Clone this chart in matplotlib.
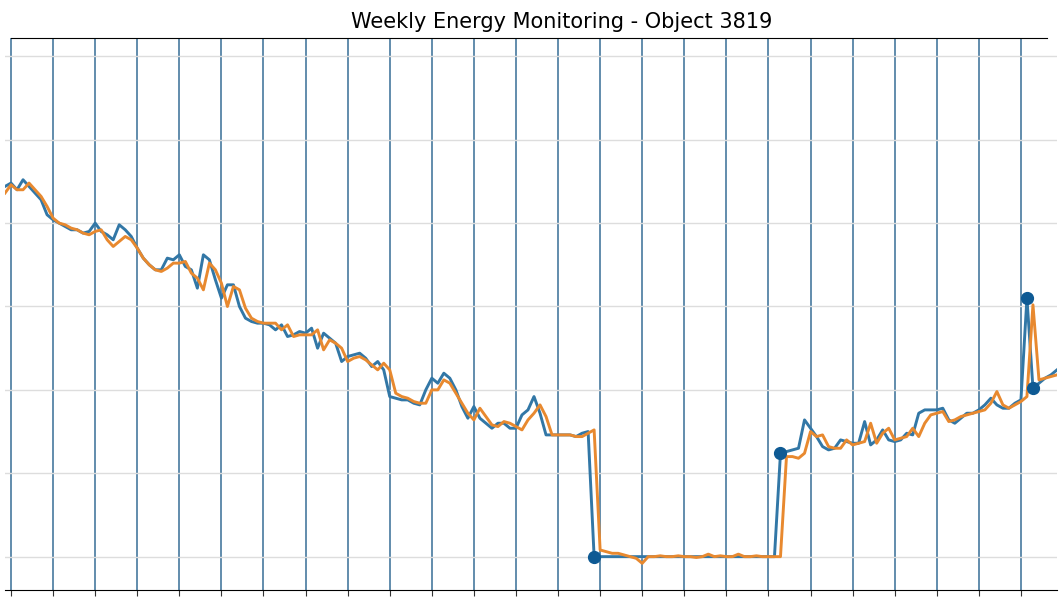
import numpy as np
import matplotlib
matplotlib.use("Agg")
import matplotlib.pyplot as plt

actual = [222, 224, 220, 226, 222, 218, 214, 205, 202, 200, 198, 196, 196, 194, 195, 200,
          195, 193, 190, 199, 196, 192, 185, 179, 175, 172, 172, 179, 178, 181, 174, 172,
          161, 181, 178, 166, 155, 163, 163, 150, 143, 141, 140, 140, 139, 136, 139, 132,
          133, 135, 134, 137, 125, 134, 131, 128, 117, 120, 121, 122, 119, 114, 117, 112,
          96, 95, 94, 94, 92, 91, 100, 107, 104, 110, 107, 100, 90, 83, 90, 83,
          80, 77, 80, 80, 77, 77, 85, 88, 96, 86, 73, 73, 73, 73, 73, 72,
          74, 75, 0, 0, 0, 0, 0, 0, 0, 0, 0, 0, 0, 0, 0, 0,
          0, 0, 0, 0, 0, 0, 0, 0, 0, 0, 0, 0, 0, 0, 0, 0,
          0, 62, 63, 64, 65, 82, 77, 72, 66, 64, 65, 70, 69, 68, 68, 81,
          67, 70, 76, 70, 69, 70, 74, 73, 86, 88, 88, 88, 89, 82, 80, 83,
          86, 86, 88, 91, 95, 91, 89, 89, 92, 94, 155, 101, 104, 107, 109, 112]

expected = [218, 223, 220, 220, 224, 220, 216, 210, 203, 200, 199, 197, 196, 194, 193, 195,
            196, 190, 186, 189, 192, 190, 185, 179, 175, 172, 171, 173, 176, 176, 177, 170,
            167, 160, 176, 172, 164, 150, 162, 160, 149, 143, 141, 140, 140, 140, 136, 139,
            132, 133, 133, 133, 136, 124, 130, 128, 125, 117, 119, 120, 118, 115, 112, 116,
            112, 98, 96, 95, 93, 92, 92, 100, 100, 106, 104, 98, 92, 86, 82, 89,
            84, 79, 78, 81, 80, 78, 76, 82, 86, 91, 84, 73, 73, 73, 73, 72,
            72, 74, 76, 4, 3, 2, 2, 1, 0, -1, -4, 0, 0, 0.5, 0, 0,
            0.5, 0, 0, -0.5, 0, 1.5, 0, 0.5, 0, 0, 1.5, 0, 0, 0.5, 0, 0,
            0, 0, 60, 60, 59, 62, 75, 72, 73, 66, 65, 65, 70, 67, 68, 69,
            80, 68, 74, 77, 70, 71, 72, 77, 72, 80, 85, 86, 87, 81, 82, 84,
            85, 86, 87, 88, 92, 99, 91, 89, 91, 93, 96, 151, 106, 107, 108, 109]

anomaly_days = [98, 129, 170, 171]

days = np.arange(len(actual))
actual = np.array(actual, dtype=float)
expected = np.array(expected, dtype=float)

fig = plt.figure(figsize=(10.62, 5.99), dpi=100)
ax = fig.add_axes([5 / 1062, 9 / 599, 1052 / 1062, 552 / 599])

ax.plot(days, actual, color='#3277a6', lw=2.1, zorder=3)
ax.plot(days, expected, color='#e8892f', lw=2.1, zorder=4)
ax.plot(days[anomaly_days], actual[anomaly_days], 'o', color='#0e5a94',
        ms=8.5, zorder=5)

# weekly separators
ax.set_xticks(np.arange(1, len(days), 7))
ax.set_yticks(np.arange(0, 301, 50))
ax.grid(axis='x', color='#5584a6', lw=1.3)
ax.grid(axis='y', color='#dddddd', lw=1.0)
ax.set_axisbelow(True)

ax.set_xlim(0, len(days) - 1)
ax.set_ylim(-20, 311)
ax.tick_params(axis='x', labelbottom=False, length=4, color='#333333')
ax.tick_params(axis='y', left=False, labelleft=False)
ax.spines['left'].set_visible(False)
ax.spines['right'].set_visible(False)
ax.spines['top'].set_bounds(1, 173.3)

ax.set_title('Weekly Energy Monitoring - Object 3819', fontsize=15, pad=7, x=0.529)

fig.savefig('out.png', dpi=100)
